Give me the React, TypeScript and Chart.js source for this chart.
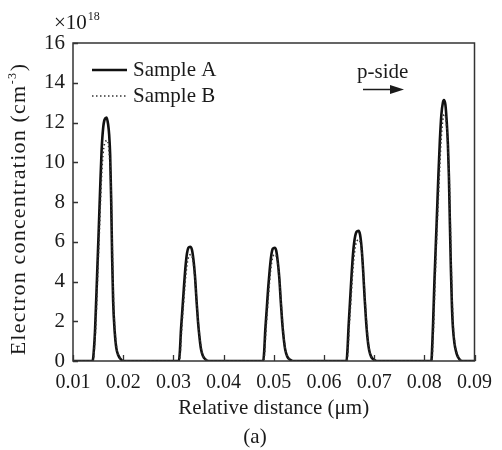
import React, { useEffect, useRef } from "react";
import { Chart, registerables } from "chart.js";

Chart.register(...registerables);

// ---- data ----
const seriesLabels = ["Sample A", "Sample B"];

const sampleAX = [
  0.01,
  0.0139, 0.0142, 0.0144, 0.0148, 0.0151, 0.0154, 0.0157, 0.016, 0.0163, 0.0167, 0.017, 0.0172, 0.0174, 0.0176, 0.0178, 0.018, 0.0183, 0.0186, 0.019, 0.0195, 0.02,
  0.0311, 0.0313, 0.0315, 0.0318, 0.0321, 0.0324, 0.0327, 0.033, 0.03335, 0.0337, 0.034, 0.0343, 0.0346, 0.0349, 0.0352, 0.0355, 0.0359, 0.0364, 0.037,
  0.0479, 0.0481, 0.0483, 0.0486, 0.0489, 0.0492, 0.0495, 0.0498, 0.0502, 0.0505, 0.0508, 0.0511, 0.0514, 0.0517, 0.052, 0.0523, 0.0527, 0.0532, 0.0538,
  0.0645, 0.0647, 0.0649, 0.0652, 0.0655, 0.0658, 0.0661, 0.0665, 0.0669, 0.0672, 0.0675, 0.0678, 0.0681, 0.0684, 0.0687, 0.069, 0.0694, 0.0699, 0.0705,
  0.0814, 0.0816, 0.08175, 0.082, 0.08245, 0.0828, 0.0831, 0.0834, 0.0837, 0.0839, 0.0842, 0.0845, 0.0847, 0.0849, 0.0851, 0.0853, 0.0855, 0.0857, 0.086, 0.0864, 0.0869, 0.0875,
  0.09,
];
const sampleAY = [
  0,
  0, 0.7, 1.6, 4.3, 6.4, 8.6, 10.6, 11.7, 12.15, 12.25, 11.9, 11.4, 10.4, 8.2, 5.2, 3.0, 1.5, 0.7, 0.3, 0.1, 0,
  0, 0.5, 1.5, 2.6, 3.7, 4.7, 5.4, 5.7, 5.75, 5.6, 5.1, 4.3, 3.1, 2.0, 1.2, 0.6, 0.25, 0.08, 0,
  0, 0.5, 1.5, 2.6, 3.7, 4.6, 5.3, 5.65, 5.7, 5.55, 5.0, 4.2, 3.0, 1.9, 1.1, 0.55, 0.22, 0.07, 0,
  0, 0.6, 1.7, 3.0, 4.3, 5.4, 6.1, 6.5, 6.55, 6.35, 5.7, 4.6, 3.2, 2.0, 1.1, 0.55, 0.22, 0.07, 0,
  0, 0.9, 1.9, 3.9, 6.9, 9.3, 11.1, 12.4, 13.0, 13.13, 12.9, 11.9, 10.9, 9.3, 6.9, 4.6, 2.8, 1.7, 0.9, 0.4, 0.12, 0,
  0,
];

const sampleBX = [
  0.01,
  0.014, 0.0143, 0.0145, 0.0149, 0.0152, 0.0155, 0.0158, 0.0161, 0.0164, 0.0168, 0.0171, 0.0173, 0.0175, 0.0177, 0.0179, 0.0181, 0.0184, 0.0187, 0.0191, 0.0196, 0.0201,
  0.0312, 0.0314, 0.0316, 0.0319, 0.0322, 0.0325, 0.0328, 0.0331, 0.0335, 0.0338, 0.0341, 0.0344, 0.0347, 0.035, 0.0353, 0.0356, 0.036, 0.0365, 0.0371,
  0.048, 0.0482, 0.0484, 0.0487, 0.049, 0.0493, 0.0496, 0.0499, 0.0503, 0.0506, 0.0509, 0.0512, 0.0515, 0.0518, 0.0521, 0.0524, 0.0528, 0.0533, 0.0539,
  0.0646, 0.0648, 0.065, 0.0653, 0.0656, 0.0659, 0.0662, 0.0666, 0.067, 0.0673, 0.0676, 0.0679, 0.0682, 0.0685, 0.0688, 0.0691, 0.0695, 0.07, 0.0706,
  0.0815, 0.0817, 0.08185, 0.0821, 0.0825, 0.0829, 0.0832, 0.0835, 0.0838, 0.084, 0.0843, 0.0846, 0.0848, 0.085, 0.0852, 0.0854, 0.0856, 0.0858, 0.0861, 0.0865, 0.087, 0.0876,
  0.09,
];
const sampleBY = [
  0,
  0, 0.8, 1.6, 4.2, 6.2, 8.2, 9.8, 10.7, 11.0, 11.1, 10.8, 10.2, 9.2, 7.4, 4.8, 2.8, 1.4, 0.65, 0.28, 0.09, 0,
  0, 0.5, 1.4, 2.5, 3.5, 4.4, 5.0, 5.3, 5.35, 5.2, 4.7, 3.9, 2.8, 1.8, 1.1, 0.55, 0.22, 0.07, 0,
  0, 0.5, 1.4, 2.5, 3.5, 4.4, 5.0, 5.3, 5.35, 5.2, 4.7, 3.9, 2.8, 1.8, 1.0, 0.5, 0.2, 0.06, 0,
  0, 0.6, 1.6, 2.8, 4.0, 5.0, 5.7, 6.05, 6.1, 5.9, 5.3, 4.3, 3.0, 1.9, 1.0, 0.5, 0.2, 0.06, 0,
  0, 0.9, 1.8, 3.7, 6.5, 8.8, 10.5, 11.7, 12.3, 12.4, 12.2, 11.3, 10.3, 8.8, 6.6, 4.4, 2.7, 1.6, 0.85, 0.38, 0.11, 0,
  0,
];

const xMin = 0.01;
const xMax = 0.09;
const xStep = 0.01;
const yMin = 0;
const yMax = 16;
const yStep = 2;

const xTitle = "Relative distance (μm)";
const yTitleMain = "Electron concentration (cm";
const yTitleSup = "-3";
const yTitleEnd = ")";
const scaleNote = "×10";
const scaleNoteSup = "18";
const caption = "(a)";
const arrowLabel = "p-side";

const SERIF = "'Liberation Serif', 'Times New Roman', serif";
const INK = "#1a1a1a";

const decorPlugin = {
  id: "decor",
  afterDraw(chart: any) {
    const { ctx, chartArea } = chart;
    const { left, right, top, bottom } = chartArea;
    const xs = chart.scales.x;
    const ys = chart.scales.y;
    ctx.save();

    // frame
    ctx.strokeStyle = "#333";
    ctx.lineWidth = 1.5;
    ctx.strokeRect(left, top, right - left, bottom - top);

    // inward ticks
    ctx.lineWidth = 1.3;
    ctx.beginPath();
    for (let v = yMin; v <= yMax + 1e-9; v += yStep) {
      const y = Math.round(ys.getPixelForValue(v)) + 0.5;
      ctx.moveTo(left, y);
      ctx.lineTo(left + 5, y);
    }
    for (let i = 0; i <= Math.round((xMax - xMin) / xStep); i++) {
      const x = Math.round(xs.getPixelForValue(xMin + i * xStep)) + 0.5;
      ctx.moveTo(x, bottom);
      ctx.lineTo(x, bottom - 6);
    }
    ctx.stroke();

    ctx.fillStyle = INK;
    ctx.textBaseline = "alphabetic";

    // y title (rotated)
    ctx.save();
    const mainFont = `22px ${SERIF}`;
    const supFont = `12px ${SERIF}`;
    (ctx as any).letterSpacing = "1.2px";
    ctx.font = mainFont;
    const w1 = ctx.measureText(yTitleMain).width;
    const w3 = ctx.measureText(yTitleEnd).width;
    ctx.font = supFont;
    const w2 = ctx.measureText(yTitleSup).width;
    const total = w1 + w2 + 1 + w3;
    const cy = 209;
    ctx.translate(25, cy);
    ctx.rotate(-Math.PI / 2);
    let px = -total / 2;
    ctx.font = mainFont;
    ctx.textAlign = "left";
    ctx.fillText(yTitleMain, px, 0);
    px += w1 + 0.5;
    ctx.font = supFont;
    ctx.fillText(yTitleSup, px, -9);
    px += w2 + 0.5;
    ctx.font = mainFont;
    ctx.fillText(yTitleEnd, px, 0);
    (ctx as any).letterSpacing = "0px";
    ctx.restore();

    // x title and caption
    ctx.font = `21px ${SERIF}`;
    ctx.textAlign = "center";
    ctx.fillText(xTitle, (left + right) / 2, 414);
    ctx.fillText(caption, 255, 443);

    // scale note ×10^18
    ctx.textAlign = "left";
    ctx.font = `21px ${SERIF}`;
    ctx.fillText(scaleNote, 54, 29);
    const wn = ctx.measureText(scaleNote).width;
    ctx.font = `12px ${SERIF}`;
    ctx.fillText(scaleNoteSup, 54 + wn + 1, 20);

    // legend
    const ds = chart.data.datasets;
    const legY = [70, 96];
    ds.forEach((d: any, i: number) => {
      ctx.save();
      ctx.strokeStyle = d.borderColor;
      ctx.lineWidth = d.borderWidth;
      ctx.setLineDash(d.borderDash || []);
      ctx.beginPath();
      ctx.moveTo(left + 19, legY[i]);
      ctx.lineTo(left + 54, legY[i]);
      ctx.stroke();
      ctx.restore();
      ctx.font = `21px ${SERIF}`;
      ctx.fillStyle = INK;
      ctx.textAlign = "left";
      ctx.fillText(d.label, left + 60, legY[i] + 6);
    });

    // p-side annotation with arrow
    ctx.font = `21px ${SERIF}`;
    ctx.textAlign = "left";
    ctx.fillText(arrowLabel, 357, 78);
    ctx.strokeStyle = INK;
    ctx.lineWidth = 1.5;
    ctx.beginPath();
    ctx.moveTo(363, 89.5);
    ctx.lineTo(392, 89.5);
    ctx.stroke();
    ctx.beginPath();
    ctx.moveTo(404, 89.5);
    ctx.lineTo(390, 85);
    ctx.lineTo(390, 94);
    ctx.closePath();
    ctx.fill();

    ctx.restore();
  },
};

export default function App() {
  const ref = useRef<HTMLCanvasElement>(null);
  useEffect(() => {
    document.body.style.margin = "0";
    const canvas = ref.current!;
    const dataA = sampleAX.map((x, i) => ({ x, y: sampleAY[i] }));
    const dataB = sampleBX.map((x, i) => ({ x, y: sampleBY[i] }));
    const chart = new Chart(canvas, {
      type: "line",
      data: {
        datasets: [
          {
            label: seriesLabels[0],
            data: dataA,
            borderColor: "#111",
            borderWidth: 2.6,
            pointRadius: 0,
            cubicInterpolationMode: "monotone",
            fill: false,
            order: 2,
          },
          {
            label: seriesLabels[1],
            data: dataB,
            borderColor: "#333",
            borderWidth: 1.7,
            borderDash: [1.5, 2.5],
            pointRadius: 0,
            cubicInterpolationMode: "monotone",
            fill: false,
            order: 1,
          },
        ],
      },
      options: {
        animation: false,
        responsive: false,
        maintainAspectRatio: false,
        layout: { padding: { top: 43, right: 19, left: 0, bottom: 0 } },
        plugins: { legend: { display: false }, tooltip: { enabled: false } },
        scales: {
          x: {
            type: "linear",
            min: xMin,
            max: xMax,
            grid: { display: false, drawTicks: false, tickLength: 0 },
            border: { display: false },
            ticks: {
              stepSize: xStep,
              color: INK,
              font: { family: SERIF, size: 20 },
              padding: 10,
              maxRotation: 0,
              autoSkip: false,
              callback: (v: any) => Number(v).toFixed(2),
            },
            afterFit: (s: any) => {
              s.height = 89;
            },
          },
          y: {
            type: "linear",
            min: yMin,
            max: yMax,
            grid: { display: false, drawTicks: false, tickLength: 0 },
            border: { display: false },
            ticks: {
              stepSize: yStep,
              color: INK,
              font: { family: SERIF, size: 21 },
              padding: 8,
            },
            afterFit: (s: any) => {
              s.width = 73;
            },
          },
        },
      },
      plugins: [decorPlugin],
    });
    return () => chart.destroy();
  }, []);
  return (
    <div style={{ width: 502, height: 450 }}>
      <canvas ref={ref} width={502} height={450} style={{ display: "block" }} />
    </div>
  );
}
